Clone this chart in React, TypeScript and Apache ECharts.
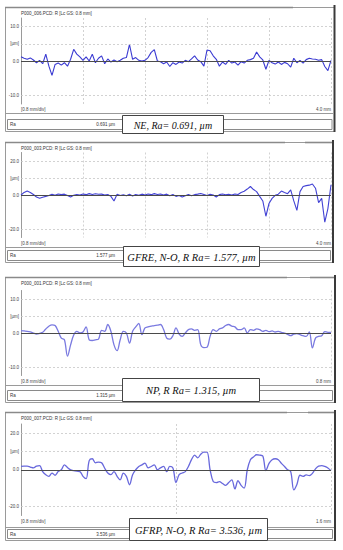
import React, { useEffect, useRef } from "react";
import * as echarts from "echarts";

// ---- Data (µm), evenly spaced along each traverse ----
const neValues = [
  1.2, 0.8, 0.5, 0.9, 0.3, -0.5, 0.2, -0.8, 2.0, -1.5, -4.2, -1.0, -0.6, -1.2, -0.5, -1.5,
  0.5, 3.4, 2.0, 1.2, 0.2, 1.2, 0.0, 2.0, -0.5, 0.8, 1.5, -0.8, 0.6, -0.3, 0.3, -0.2,
  0.2, 0.8, 1.0, 4.8, 0.5, 1.0, 0.2, 0.0, 0.2, 1.0, 2.5, 3.3, 0.0, -0.2, -0.8, -0.3,
  -1.6, -0.5, -1.0, -0.3, -0.6, 0.2, -0.2, 0.6, 1.5, 0.3, -0.2, -1.5, 3.2, 3.0, 1.5,
  0.5, -1.5, -0.3, -1.0, 0.2, -0.6, -0.3, -1.2, -0.2, -0.6, 0.2, 0.4, 0.8, 2.6, 1.2,
  0.3, -2.4, 0.2, -0.5, -0.9, -0.3, -1.0, -0.4, -0.8, -1.8, 0.8, -0.5, 0.2, -0.6, 0.4,
  0.8, 0.6, 0.5, 0.2, 0.4, -1.6, -2.8, 0.2,
];
const gfreValues = [
  0.0, 1.5, 2.3, 1.5, 0.3, -1.2, -1.9, -1.3, -0.8, -0.3, 0.5, -0.2, 0.6, 0.2, 0.5, -0.3,
  -1.2, -0.2, 0.3, 0.0, 0.6, 0.2, 0.8, 0.3, 0.7, 0.4, 0.5, 0.0, 0.3, -0.8, -3.5, 0.5,
  -0.3, 0.2, -0.5, 0.4, -0.6, 0.3, -0.2, 0.5, 0.0, 0.6, 0.2, 0.8, 0.3, 0.6, 0.0, 0.5,
  -0.4, 0.3, -0.8, -0.3, -1.2, -0.5, 0.3, -0.4, 0.2, 0.5, 0.9, 0.3, -0.3, 0.4, 0.0,
  -1.2, 0.2, 0.6, 0.1, 0.4, 0.0, 0.6, 0.3, 1.5, 2.2, 3.5, 5.0, 3.2, 2.0, -0.8, -3.5,
  -12.5, -5.0, -2.0, -0.2, 0.5, 2.3, 1.5, 0.8, 3.0, -3.5, -9.0, 2.0, 5.0, 5.5, 5.8, 6.5,
  4.0, -4.5, -2.0, -16.0, -8.0, 6.0,
];
const npValues = [
  0.7, 0.6, 0.5, 0.3, 0.0, -0.3, -0.1, 0.2, 1.2, 2.0, 2.4, 2.2, 0.5, -1.5, -2.0, -6.8,
  -3.5, -0.6, 0.5, 0.0, 0.3, 1.8, -2.0, -2.2, -2.0, -1.8, 0.8, 0.5, 2.5, 0.5, -3.5, -5.2,
  -2.0, 0.5, 0.0, -3.0, 0.5, 1.8, 2.8, -0.5, 1.5, 1.8, 2.0, 2.2, 2.3, 2.5, 1.0, -1.5,
  -1.8, -0.8, 1.5, -0.3, -1.0, 0.0, 1.0, 1.2, 0.8, 1.0, -3.5, -4.3, -4.2, -1.0, 1.0, 0.5,
  1.2, 1.5, 2.2, 2.5, 2.0, 1.8, 1.0, 1.0, 1.5, 0.0, 1.0, 0.8, 1.2, 1.0, 0.5, 0.8, 0.4,
  0.6, 0.3, 0.5, 0.2, 0.0, -0.4, -0.8, -0.3, -0.2, -0.5, -0.8, -1.0, 0.3, -4.4, -1.5,
  -1.0, -0.8, 0.4, 0.2, 0.2,
];
const gfrpValues = [
  1.8, 2.0, 2.0, 1.5, 1.0, 2.0, 2.2, -1.0, -2.7, -3.6, -1.8, -3.0, -1.0, 0.0, 2.7, 1.2,
  0.0, -0.5, -0.8, -1.0, -3.6, -4.9, 5.0, 6.0, 3.8, 4.2, 3.8, 0.8, -1.8, -2.7, -1.0,
  -3.6, -5.5, -1.8, -3.6, -8.2, -2.7, 0.0, 1.8, 2.7, 3.6, 1.0, 1.8, 2.7, 0.0, 1.0, 1.8,
  -1.0, 1.8, 1.0, -7.0, -2.7, -1.8, -1.0, 1.8, 5.5, 8.0, 6.5, 8.5, 9.6, 9.6, 0.0, -6.4,
  -7.0, -6.5, -7.5, -8.5, -7.0, -5.5, -10.5, -6.0, -8.5, -10.0, 0.0, 5.5, 7.0, 8.2, 8.0,
  7.5, -0.5, 3.5, 5.5, 6.0, 5.5, 3.5, 1.8, 0.0, -1.0, -11.0, -8.0, -3.0, -3.6, -2.8,
  -3.2, -2.0, 0.5, 2.0, 2.2, 1.8, 1.0, -0.5,
];

// ---- Texts / ticks ----
const panelTitles = [
  "P000_006.PCD: R [Lc GS: 0.8 mm]",
  "P000_003.PCD: R [Lc GS: 0.8 mm]",
  "P000_001.PCD: R [Lc GS: 0.8 mm]",
  "P000_007.PCD: R [Lc GS: 0.8 mm]",
];
const yTicksSmall: [number, string][] = [[10, "10.0"], [5, "[µm]"], [0, "0.0"], [-10, "-10.0"]];
const yTicksLarge: [number, string][] = [[20, "20.0"], [10, "[µm]"], [0, "0.0"], [-20, "-20.0"]];
const xStartLabel = "[0.8 mm/div]";
const xSpans = [4.0, 4.0, 0.8, 1.6];
const xEndLabels = ["4.0 mm", "4.0 mm", "0.8 mm", "1.6 mm"];
const raLabel = "Ra";
const raValues = ["0.691 µm", "1.577 µm", "1.315 µm", "3.536 µm"];
const captions = [
  "NE, Ra= 0.691, µm",
  "GFRE, N-O, R Ra= 1.577, µm",
  "NP, R Ra= 1.315, µm",
  "GFRP, N-O, R Ra= 3.536, µm",
];

// ---- Layout / style (not data) ----
const seriesList = [neValues, gfreValues, npValues, gfrpValues];
const lineColors = ["#3a3ad2", "#4242d4", "#7a7ae0", "#6868dc"];
const lineWidths = [1.1, 1.1, 1.3, 1.3];
const smoothing = [false, false, 0.35, 0.35];
const layouts = [
  { top: 7, gridTop: 18, gridH: 86, ext: 12.5, step: 2.5, ticks: yTicksSmall, plotBottom: 113, raTop: 119, raBottom: 129, bottom: 131, topLine: [[5, 293]], rightX: 334.5, box: [122, 115, 223, 133], font: 10 },
  { top: 142, gridTop: 152.5, gridH: 85, ext: 25, step: 5, ticks: yTicksLarge, plotBottom: 247, raTop: 250, raBottom: 260, bottom: 262, topLine: [[5, 285], [305, 333]], rightX: 333, box: [123, 246, 259, 266], font: 10.5 },
  { top: 277, gridTop: 290.5, gridH: 85, ext: 12.5, step: 2.5, ticks: yTicksSmall, plotBottom: 385, raTop: 390, raBottom: 400, bottom: 402, topLine: [[5, 287], [310, 336]], rightX: 335, box: [122, 378, 259, 401], font: 10.5 },
  { top: 412, gridTop: 424, gridH: 91.5, ext: 25, step: 5, ticks: yTicksLarge, plotBottom: 527, raTop: 529, raBottom: 538, bottom: 540, topLine: [[5, 287], [308, 336]], rightX: 335, box: [129, 518, 267, 540], font: 10.5 },
];

const smallFont = '4.5px "Liberation Sans", Arial, sans-serif';

function buildOption() {
  const grid: any[] = [];
  const xAxis: any[] = [];
  const yAxis: any[] = [];
  const series: any[] = [];
  const elements: any[] = [];

  layouts.forEach((l, i) => {
    const span = xSpans[i];
    grid.push({ left: 21, top: l.gridTop, width: 310, height: l.gridH, containLabel: false });
    xAxis.push({
      type: "value",
      gridIndex: i,
      min: 0,
      max: span,
      interval: 0.8,
      axisLine: { show: false },
      axisTick: { show: false },
      splitLine: { show: true, lineStyle: { color: "#c6c6c6", type: [2, 2], width: 0.8 } },
      axisLabel: {
        show: true,
        fontSize: 4.5,
        color: "#444",
        margin: 3,
        fontFamily: "Liberation Sans",
        showMinLabel: true,
        showMaxLabel: true,
        alignMinLabel: "left",
        alignMaxLabel: "right",
        formatter: (v: number) => {
          if (Math.abs(v) < 1e-9) return xStartLabel;
          if (Math.abs(v - span) < 1e-9) return xEndLabels[i];
          return "";
        },
      },
    });
    yAxis.push({
      type: "value",
      gridIndex: i,
      min: -l.ext,
      max: l.ext,
      interval: l.step,
      axisLine: { show: true, lineStyle: { color: "#9a9a9a", width: 1 } },
      axisTick: { show: false },
      splitLine: { show: false },
      axisLabel: {
        show: true,
        fontSize: 4.5,
        color: "#444",
        margin: 2,
        fontFamily: "Liberation Sans",
        formatter: (v: number) => {
          const t = l.ticks.find((p) => Math.abs(p[0] - v) < 1e-9);
          return t ? t[1] : "";
        },
      },
    });
    const vals = seriesList[i];
    const gridMarks = l.ticks
      .filter((p) => p[0] !== 0)
      .map((p) => ({ yAxis: p[0], lineStyle: { color: "#c6c6c6", type: [2, 2], width: 0.8 } }));
    series.push({
      type: "line",
      xAxisIndex: i,
      yAxisIndex: i,
      data: vals.map((v, j) => [(j * span) / (vals.length - 1), v]),
      symbol: "none",
      showSymbol: false,
      smooth: smoothing[i],
      lineStyle: { color: lineColors[i], width: lineWidths[i] },
      z: 3,
      markLine: {
        silent: true,
        symbol: ["none", "none"],
        label: { show: false },
        animation: false,
        data: [
          ...gridMarks.map((g) => ({ ...g })),
          { yAxis: 0, lineStyle: { color: "#4a4a4a", type: "solid", width: 1.2 } },
        ],
      },
    });

    // frame graphics
    elements.push({
      type: "rect",
      z: 1,
      shape: { x: 5.5, y: l.top + 0.5, width: l.rightX - 5.5, height: l.bottom - l.top },
      style: { fill: "none", stroke: "#9a9a9a", lineWidth: 1 },
    });
    l.topLine.forEach((seg) => {
      elements.push({
        type: "line",
        z: 2,
        shape: { x1: seg[0], y1: l.top + 0.5, x2: seg[1], y2: l.top + 0.5 },
        style: { stroke: "#8a8a8a", lineWidth: 1.6 },
      });
    });
    elements.push({
      type: "line",
      z: 2,
      shape: { x1: l.rightX, y1: l.top - 2, x2: l.rightX, y2: l.bottom + 1 },
      style: { stroke: "#3a3a3a", lineWidth: 2 },
    });
    elements.push({
      type: "line",
      z: 2,
      shape: { x1: 5.5, y1: l.plotBottom + 0.5, x2: l.rightX - 1, y2: l.plotBottom + 0.5 },
      style: { stroke: "#9a9a9a", lineWidth: 1 },
    });
    elements.push({
      type: "rect",
      z: 2,
      shape: { x: 7.5, y: l.raTop + 0.5, width: l.rightX - 10, height: l.raBottom - l.raTop },
      style: { fill: "#fff", stroke: "#8a8a8a", lineWidth: 1 },
    });
    elements.push({
      type: "text",
      z: 3,
      x: 10,
      y: (l.raTop + l.raBottom) / 2 + 0.5,
      style: { text: raLabel, font: smallFont, fill: "#333", align: "left", verticalAlign: "middle" },
    });
    elements.push({
      type: "text",
      z: 3,
      x: 115,
      y: (l.raTop + l.raBottom) / 2 + 0.5,
      style: { text: raValues[i], font: smallFont, fill: "#333", align: "right", verticalAlign: "middle" },
    });
    elements.push({
      type: "text",
      z: 3,
      x: 21,
      y: l.top + 6,
      style: { text: panelTitles[i], font: smallFont, fill: "#333", align: "left", verticalAlign: "middle" },
    });
    const [bx1, by1, bx2, by2] = l.box;
    elements.push({
      type: "rect",
      z: 10,
      shape: { x: bx1 + 0.5, y: by1 + 0.5, width: bx2 - bx1, height: by2 - by1 },
      style: { fill: "#fff", stroke: "#444", lineWidth: 1 },
    });
    elements.push({
      type: "text",
      z: 11,
      x: (bx1 + bx2) / 2 + 0.5,
      y: (by1 + by2) / 2 + 1,
      style: {
        text: captions[i],
        font: `italic ${l.font}px "Liberation Serif", "Times New Roman", serif`,
        fill: "#111",
        align: "center",
        verticalAlign: "middle",
      },
    });
  });

  return {
    animation: false,
    backgroundColor: "#ffffff",
    grid,
    xAxis,
    yAxis,
    series,
    graphic: { elements },
  };
}

export default function App() {
  const ref = useRef<HTMLDivElement>(null);
  useEffect(() => {
    if (!ref.current) return;
    const chart = echarts.init(ref.current, undefined, { renderer: "svg" });
    chart.setOption(buildOption() as any);
    return () => chart.dispose();
  }, []);
  return (
    <div
      ref={ref}
      style={{ position: "fixed", left: 0, top: 0, width: 343, height: 550, background: "#fff" }}
    />
  );
}
